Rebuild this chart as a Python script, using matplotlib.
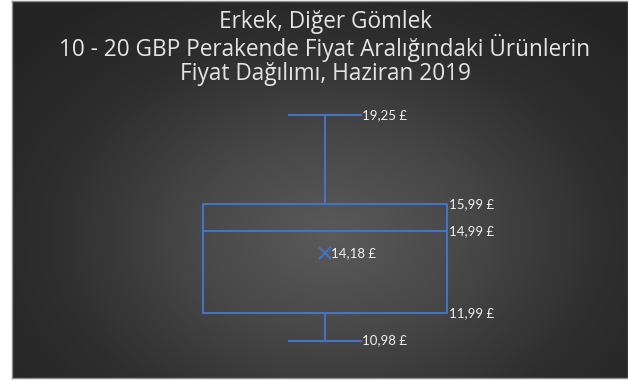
import numpy as np
import matplotlib
matplotlib.use("Agg")
import matplotlib.pyplot as plt
from matplotlib.colors import LinearSegmentedColormap

# price summary (GBP)
whisker_low = 10.98
q1 = 11.99
median = 14.99
q3 = 15.99
whisker_high = 19.25
mean = 14.18

title_lines = ["Erkek, Diğer Gömlek",
               "10 - 20 GBP Perakende Fiyat Aralığındaki Ürünlerin",
               "Fiyat Dağılımı, Haziran 2019"]

blue = "#4472c4"
text_col = "#f0f0f0"


def fmt(v):
    return f"{v:.2f}".replace(".", ",") + " £"


fig = plt.figure(figsize=(6.28, 3.81), dpi=100, facecolor="white")
W, H = 628, 381

# dark panel with a radial gradient
bg = fig.add_axes([12 / W, 3 / H, 616 / W, 377 / H])
yy, xx = np.mgrid[0:377, 0:616]
cx, cy = 318, 235
d = np.sqrt(((xx - cx) / 420.0) ** 2 + ((yy - cy) / 300.0) ** 2)
d = np.clip(d, 0, 1)
cmap = LinearSegmentedColormap.from_list("panel", ["#5a5a5a", "#474747", "#2e2e2e", "#232323"])
bg.imshow(d, cmap=cmap, vmin=0, vmax=1, aspect="auto", interpolation="bilinear")
bg.set_xticks([])
bg.set_yticks([])
for s in bg.spines.values():
    s.set_color("#8c8c8c")
    s.set_linewidth(1.0)

# box plot axis, mapped over the whole figure
ax = fig.add_axes([0, 0, 1, 1])
ax.patch.set_alpha(0)
ax.set_axis_off()
px_per_unit = 27.25
top_val = q3 + 204 / px_per_unit
ax.set_ylim(top_val - H / px_per_unit, top_val)
box_w = 244
ax.set_xlim(-325 / box_w, (W - 325) / box_w)

stats = [dict(med=median, q1=q1, q3=q3, whislo=whisker_low, whishi=whisker_high,
              mean=mean, fliers=[])]
ax.bxp(stats, positions=[0], widths=1.0, capwidths=0.295, showmeans=True,
       showfliers=False,
       boxprops=dict(color=blue, linewidth=1.5),
       medianprops=dict(color=blue, linewidth=1.5),
       whiskerprops=dict(color=blue, linewidth=1.5),
       capprops=dict(color=blue, linewidth=1.5),
       meanprops=dict(marker="x", markeredgecolor=blue, markersize=8, markeredgewidth=1.5))

lab_kw = dict(color=text_col, fontsize=9.5, family="Lato", va="center", ha="left",
              textcoords="offset points")
for v in (whisker_high, whisker_low):
    ax.annotate(fmt(v), (0.295 / 2, v), xytext=(0.5, 0), **lab_kw)
for v in (q3, median, q1):
    ax.annotate(fmt(v), (0.5, v), xytext=(1.2, 0), **lab_kw)
ax.annotate(fmt(mean), (0, mean), xytext=(4.5, 0), **lab_kw)

# title
for i, line in enumerate(title_lines):
    fig.text(325 / W, 1 - (22 + 26 * i) / H, line, ha="center", va="center",
             color="#e4e4e4", fontsize=16.3, family="Open Sans")

fig.savefig("out.png", dpi=100, facecolor="white")
